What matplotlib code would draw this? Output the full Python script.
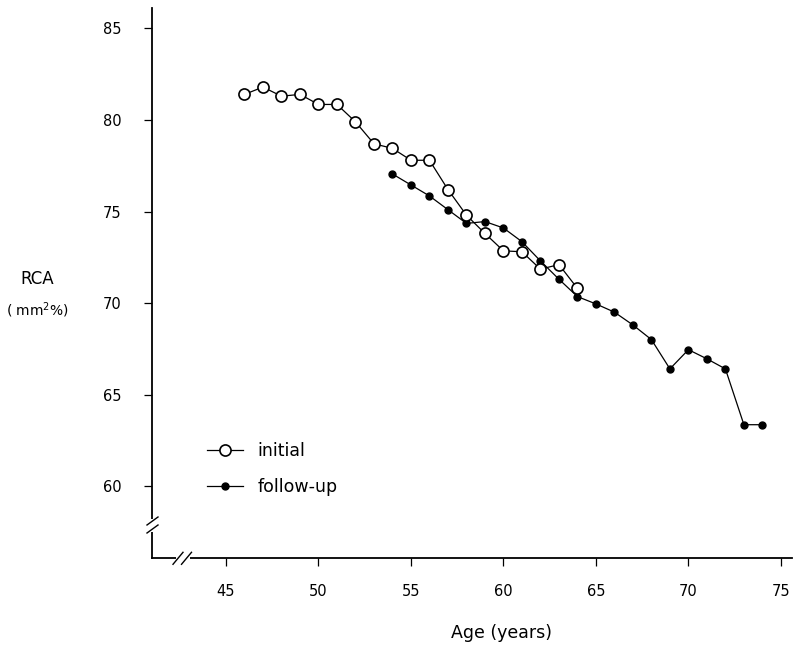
import matplotlib
matplotlib.use("Agg")
import matplotlib.pyplot as plt

# Data
initial_age = [46, 47, 48, 49, 50, 51, 52, 53, 54, 55, 56, 57, 58, 59, 60, 61, 62, 63, 64]
initial_rca = [81.4, 81.8, 81.3, 81.4, 80.85, 80.85, 79.9, 78.7, 78.45, 77.8, 77.8,
               76.2, 74.8, 73.8, 72.85, 72.8, 71.85, 72.1, 70.8]
followup_age = [54, 55, 56, 57, 58, 59, 60, 61, 62, 63, 64, 65, 66, 67, 68, 69, 70, 71, 72, 73, 74]
followup_rca = [77.05, 76.45, 75.85, 75.1, 74.35, 74.45, 74.1, 73.35, 72.3, 71.3, 70.35,
                69.95, 69.5, 68.8, 68.0, 66.4, 67.45, 66.95, 66.4, 63.35, 63.35]
x_ticks = [45, 50, 55, 60, 65, 70, 75]
y_ticks = [60, 65, 70, 75, 80, 85]

W, H = 793, 646
fig = plt.figure(figsize=(W / 100, H / 100), dpi=100)
L, R, B, T = 152, 792, 558.3, 8
ax = fig.add_axes([L / W, (H - B) / H, (R - L) / W, (B - T) / H])

ax.plot(initial_age, initial_rca, color="black", lw=0.9, marker="o", ms=8,
        mfc="white", mec="black", mew=1.2, label="initial", zorder=3)
ax.plot(followup_age, followup_rca, color="black", lw=0.9, marker="o", ms=5,
        mfc="black", mec="black", label="follow-up", zorder=2)

ax.set_xlim(41, 75.6)
ax.set_ylim(56.05, 86.12)
ax.set_xticks(x_ticks)
ax.set_yticks(y_ticks)
ax.spines["top"].set_visible(False)
ax.spines["right"].set_visible(False)
for s in ("left", "bottom"):
    ax.spines[s].set_linewidth(1.3)
ax.tick_params(axis="y", length=6, width=0.9, pad=16, labelsize=10.5)
ax.tick_params(axis="x", length=5.5, width=0.9, pad=13, labelsize=10.5)

# axis breaks
axw, axh = (R - L), (B - T)
def px2ax(x, y):
    return ((x - L) / axw, (B - y) / axh)

a = px2ax(152, 519); b = px2ax(152, 532)
ax.plot([a[0], b[0]], [a[1], b[1]], transform=ax.transAxes, color="white", lw=3,
        clip_on=False, zorder=5, solid_capstyle="butt")
for yc in (521, 529):
    a = px2ax(147, yc + 4); b = px2ax(158, yc - 4)
    ax.plot([a[0], b[0]], [a[1], b[1]], transform=ax.transAxes, color="black", lw=1.0,
            clip_on=False, zorder=6)
a = px2ax(176, B); b = px2ax(190, B)
ax.plot([a[0], b[0]], [a[1], b[1]], transform=ax.transAxes, color="white", lw=3,
        clip_on=False, zorder=5, solid_capstyle="butt")
for xc in (178, 186.5):
    a = px2ax(xc - 5, B + 6); b = px2ax(xc + 5, B - 6)
    ax.plot([a[0], b[0]], [a[1], b[1]], transform=ax.transAxes, color="black", lw=1.0,
            clip_on=False, zorder=6)

ax.legend(loc="center left", bbox_to_anchor=((207 - L) / axw, (B - 468.7) / axh),
          frameon=False, fontsize=12.5, handlelength=2.07, handletextpad=0.86,
          labelspacing=1.04, borderpad=0, borderaxespad=0)

fig.text(37 / W, 1 - 279 / H, "RCA", ha="center", va="center", fontsize=12)
fig.text(37 / W, 1 - 310 / H, "( mm$^{2}$%)", ha="center", va="center", fontsize=10)
fig.text(501 / W, 1 - 633 / H, "Age (years)", ha="center", va="center", fontsize=12.5)

fig.savefig("out.png", dpi=100)
